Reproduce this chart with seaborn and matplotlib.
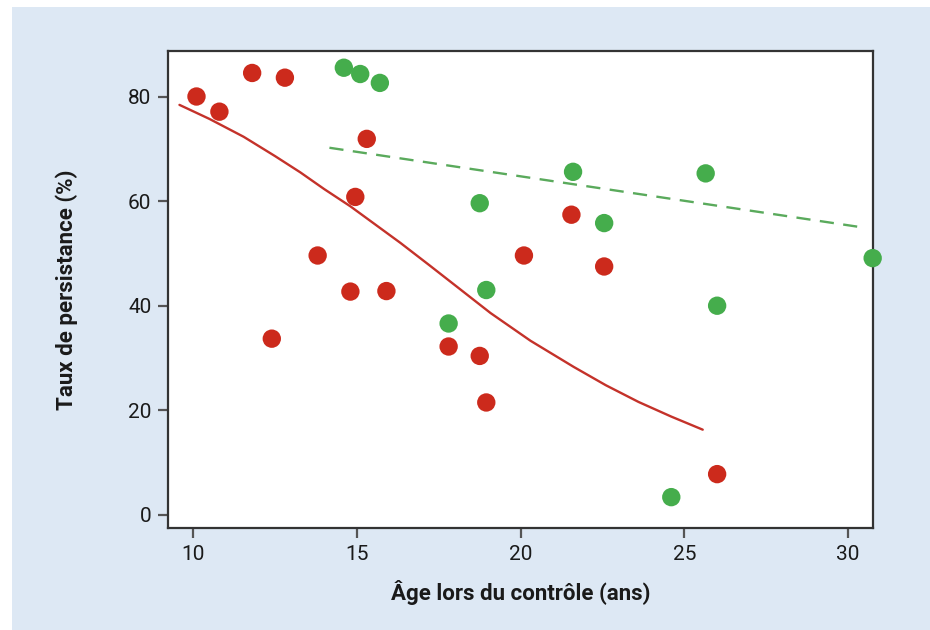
import matplotlib
matplotlib.use("Agg")
import matplotlib.pyplot as plt
from matplotlib.patches import Rectangle
import seaborn as sns
import pandas as pd

# points (age, persistence %)
red_age = [10.1, 10.8, 11.8, 12.8, 15.3, 14.95, 13.8, 14.8, 15.9, 12.4,
           17.8, 18.75, 18.95, 20.1, 21.55, 22.55, 26.0]
red_rate = [80.0, 77.1, 84.5, 83.6, 71.9, 60.8, 49.6, 42.7, 42.8, 33.7,
            32.2, 30.4, 21.5, 49.6, 57.4, 47.5, 7.8]
green_age = [14.6, 15.1, 15.7, 17.8, 18.75, 18.95, 21.6, 22.55, 24.6,
             25.65, 26.0, 30.75]
green_rate = [85.5, 84.3, 82.6, 36.6, 59.6, 43.0, 65.6, 55.8, 3.4,
              65.3, 40.0, 49.1]

# smoothed trend lines as drawn in the chart
red_fit_x = [9.58, 10.5, 11.54, 12.5, 13.27, 14.0, 14.8, 15.5, 16.33, 17.2,
             18.1, 19.08, 20.3, 21.62, 22.6, 23.6, 24.6, 25.56]
red_fit_y = [78.4, 75.7, 72.3, 68.6, 65.5, 62.3, 59.0, 55.8, 52.0, 47.8,
             43.4, 38.6, 33.3, 28.3, 24.8, 21.6, 18.8, 16.3]
green_fit_x = [14.16, 30.3]
green_fit_y = [70.2, 55.1]

x_ticks = [10, 15, 20, 25, 30]
y_ticks = [0, 20, 40, 60, 80]

df = pd.DataFrame({
    "age": red_age + green_age,
    "rate": red_rate + green_rate,
    "group": ["rouge"] * len(red_age) + ["vert"] * len(green_age),
})

sns.set_style("white")
plt.rcParams["font.family"] = ["Roboto", "DejaVu Sans"]

fig = plt.figure(figsize=(9.3, 6.3), dpi=100, facecolor="white")
# light blue panel behind the chart
fig.patches.append(Rectangle((12 / 930, 0), 1, 1 - 7 / 630, transform=fig.transFigure,
                             facecolor="#dde8f4", edgecolor="none", zorder=-10))
ax = fig.add_axes([168 / 930, 102 / 630, 705 / 930, 477 / 630])
ax.set_facecolor("white")

sns.lineplot(x=red_fit_x, y=red_fit_y, ax=ax, color="#c4322a", lw=1.7, sort=False)
sns.lineplot(x=green_fit_x, y=green_fit_y, ax=ax, color="#5aaa5c", lw=1.7,
             linestyle=(0, (6, 4)))

sns.scatterplot(data=df, x="age", y="rate", hue="group",
                palette={"rouge": "#cc2a1c", "vert": "#45ad4c"},
                s=175, linewidth=0, legend=False, ax=ax, zorder=5)
for coll in ax.collections:
    coll.set_clip_on(False)

ax.set_xlim(9.23, 30.76)
ax.set_ylim(-2.5, 88.7)
ax.set_xticks(x_ticks)
ax.set_yticks(y_ticks)
ax.tick_params(axis="both", direction="out", length=7, width=1.6, color="#555555",
               labelsize=15, labelcolor="#1a1a1a", pad=5, bottom=True, left=True)

for side in ["left", "bottom", "top", "right"]:
    ax.spines[side].set_visible(True)
    ax.spines[side].set_color("#333333")
    ax.spines[side].set_linewidth(1.6)

ax.set_xlabel("Âge lors du contrôle (ans)", fontsize=16, fontweight="bold",
              color="#1a1a1a", labelpad=12)
ax.set_ylabel("Taux de persistance (%)", fontsize=16, fontweight="bold",
              color="#1a1a1a", labelpad=36)

fig.savefig("out.png", dpi=100, facecolor=fig.get_facecolor())
